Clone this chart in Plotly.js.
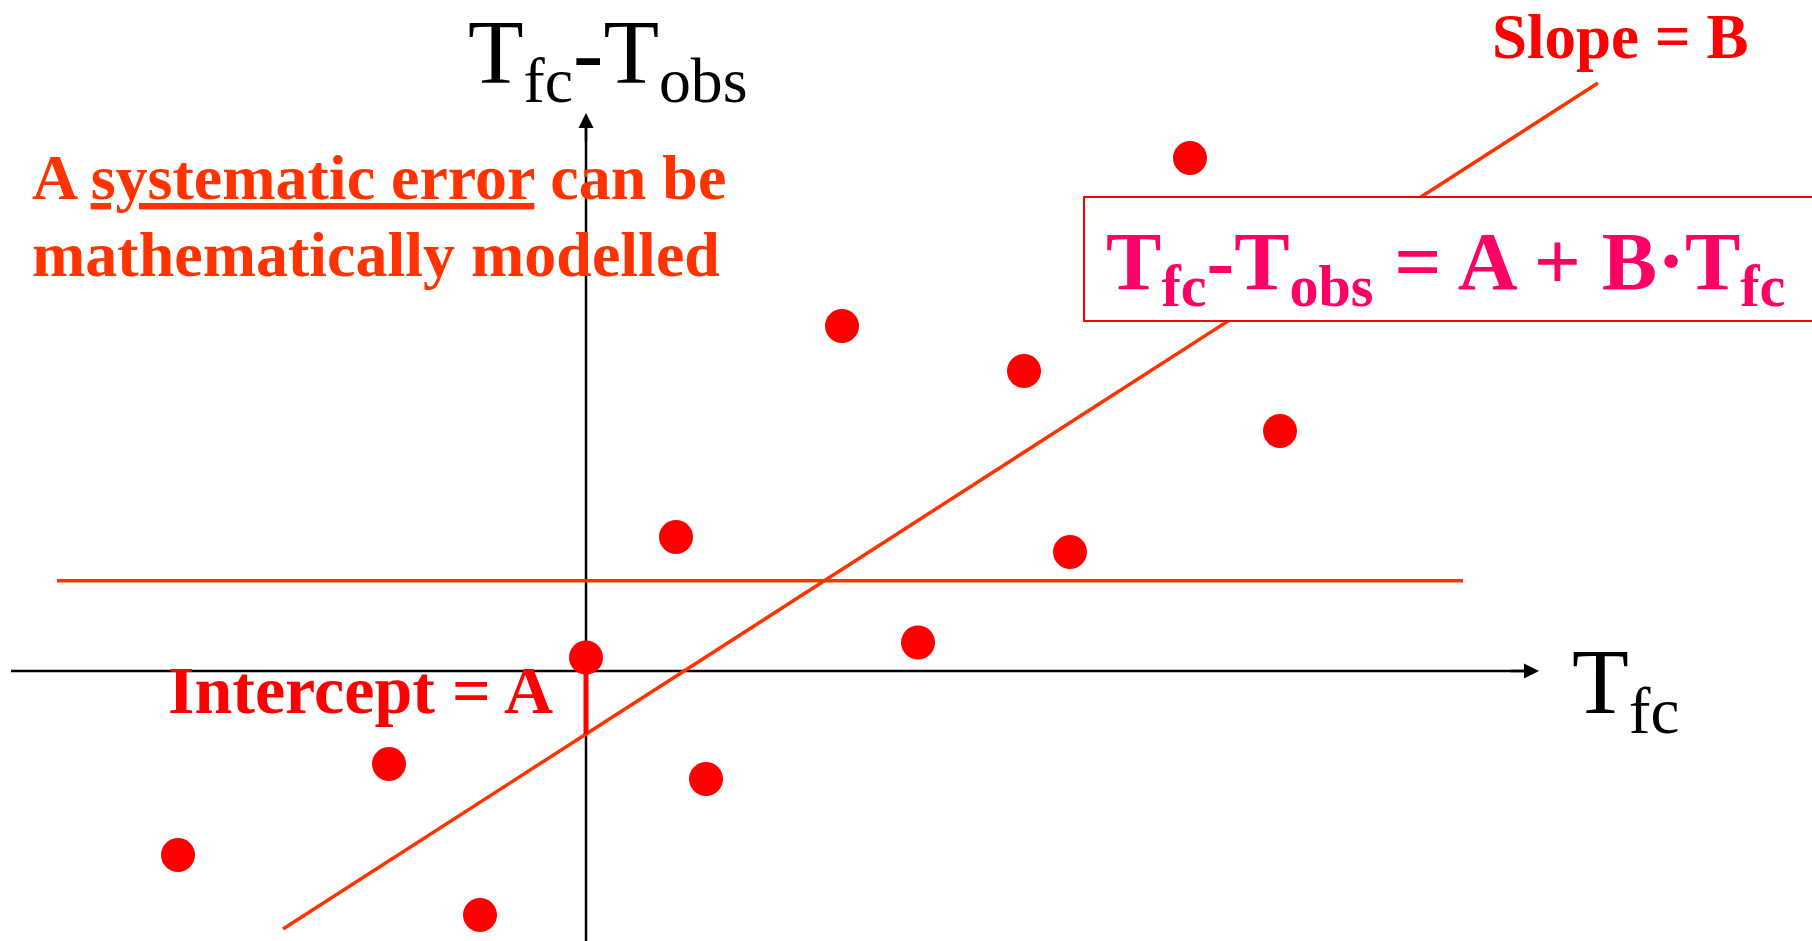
<!DOCTYPE html>
<html>
<head>
<meta charset="utf-8">
<script src="https://cdn.plot.ly/plotly-3.0.1.min.js"></script>
<style>
  html, body { margin: 0; padding: 0; background: #ffffff; }
  #chart { width: 1812px; height: 941px; }
</style>
</head>
<body>
<div id="chart"></div>
<script>
// Forecast temperature T_fc and the forecast error T_fc - T_obs for each case
const tFc = [-4.08, -1.97, -1.06, 0.00, 0.90, 1.20, 2.56, 3.32, 4.38, 4.84, 6.04, 6.94];
const tErr = [-1.84, -0.93, -2.44, 0.135, 1.34, -1.08, 3.45, 0.285, 3.00, 1.19, 5.13, 2.40];

// Linear error model T_fc - T_obs = A + B * T_fc
const interceptA = -0.63;
const slopeB = 0.643;
const fitX = [-3.03, 10.12];
const fitY = [-2.58, 5.88];

// Mean (constant) error level
const meanErr = 0.903;
const meanX = [-5.29, 8.77];
const meanY = [meanErr, meanErr];

// Extent of the drawn axes
const xAxisSpan = [-5.75, 9.53];
const yAxisSpan = [-2.9, 5.58];

const orange = '#FF3300';
const red = '#FF0000';
const pink = '#FF0066';
const serif = '"Liberation Serif", "Times New Roman", Times, serif';

const traces = [
  {
    x: meanX, y: meanY, mode: 'lines', type: 'scatter',
    line: { color: orange, width: 3.5 }, hoverinfo: 'skip', showlegend: false
  },
  {
    x: fitX, y: fitY, mode: 'lines', type: 'scatter',
    line: { color: orange, width: 3.5 }, hoverinfo: 'skip', showlegend: false
  },
  {
    // intercept marker from the origin down to A
    x: [0, 0], y: [0, interceptA], mode: 'lines', type: 'scatter',
    line: { color: red, width: 5 }, hoverinfo: 'skip', showlegend: false
  },
  {
    x: tFc, y: tErr, mode: 'markers', type: 'scatter',
    marker: { color: red, size: 34, line: { width: 0 } },
    cliponaxis: false, hoverinfo: 'skip', showlegend: false
  }
];

const shapes = [
  // horizontal axis
  { type: 'line', layer: 'below', xref: 'x', yref: 'y',
    x0: xAxisSpan[0], x1: xAxisSpan[1] - 0.1, y0: 0, y1: 0,
    line: { color: '#000000', width: 2.5 } },
  // vertical axis
  { type: 'line', layer: 'below', xref: 'x', yref: 'y',
    x0: 0, x1: 0, y0: yAxisSpan[0], y1: yAxisSpan[1] - 0.1,
    line: { color: '#000000', width: 2.5 } },
  // equation box
  { type: 'rect', layer: 'above', xref: 'x', yref: 'y',
    x0: 4.98, x1: 12.4, y0: 3.50, y1: 4.74,
    fillcolor: '#ffffff', line: { color: red, width: 2 } }
];

const annotations = [
  // arrow heads of the axes
  { x: xAxisSpan[1], y: 0, ax: xAxisSpan[1] - 0.3, ay: 0, axref: 'x', ayref: 'y',
    xref: 'x', yref: 'y', text: '', showarrow: true,
    arrowhead: 2, arrowsize: 1.2, arrowwidth: 2.5, arrowcolor: '#000000' },
  { x: 0, y: yAxisSpan[1], ax: 0, ay: yAxisSpan[1] - 0.3, axref: 'x', ayref: 'y',
    xref: 'x', yref: 'y', text: '', showarrow: true,
    arrowhead: 2, arrowsize: 1.2, arrowwidth: 2.5, arrowcolor: '#000000' },

  // axis labels
  { x: -1.20, y: 1.0, xref: 'x', yref: 'paper', xanchor: 'left', yanchor: 'top',
    text: 'T<sub>fc</sub>-T<sub>obs</sub>', showarrow: false,
    font: { family: serif, size: 91, color: '#000000' } },
  { x: 9.835, y: 0.43, xref: 'x', yref: 'y', xanchor: 'left', yanchor: 'top',
    text: 'T<sub>fc</sub>', showarrow: false,
    font: { family: serif, size: 93, color: '#000000' } },

  // explanatory text
  { x: -5.565, y: 5.31, xref: 'x', yref: 'y', xanchor: 'left', yanchor: 'top',
    text: '<b>A <u>systematic error</u> can be</b>', showarrow: false,
    font: { family: serif, size: 64, color: orange } },
  { x: -5.565, y: 4.54, xref: 'x', yref: 'y', xanchor: 'left', yanchor: 'top',
    text: '<b>mathematically modelled</b>', showarrow: false,
    font: { family: serif, size: 64, color: orange } },

  { x: 9.04, y: 1.0, xref: 'x', yref: 'paper', xanchor: 'left', yanchor: 'top',
    text: '<b>Slope = B</b>', showarrow: false,
    font: { family: serif, size: 63, color: red } },

  { x: 5.18, y: 4.58, xref: 'x', yref: 'y', xanchor: 'left', yanchor: 'top',
    text: '<b>T<sub>fc</sub>-T<sub>obs</sub> = A + B·T<sub>fc</sub></b>', showarrow: false,
    font: { family: serif, size: 83, color: pink } },

  { x: -4.20, y: 0.206, xref: 'x', yref: 'y', xanchor: 'left', yanchor: 'top',
    text: '<b>Intercept = A</b>', showarrow: false,
    font: { family: serif, size: 68, color: red } }
];

const layout = {
  width: 1812, height: 941,
  margin: { l: 0, r: 0, t: 0, b: 0, pad: 0 },
  paper_bgcolor: '#ffffff', plot_bgcolor: '#ffffff',
  showlegend: false,
  xaxis: { range: [-5.86, 12.26], visible: false, fixedrange: true },
  yaxis: { range: [-2.70, 6.71], visible: false, fixedrange: true },
  shapes: shapes,
  annotations: annotations
};

Plotly.newPlot('chart', traces, layout, { displayModeBar: false, staticPlot: true });
</script>
</body>
</html>
